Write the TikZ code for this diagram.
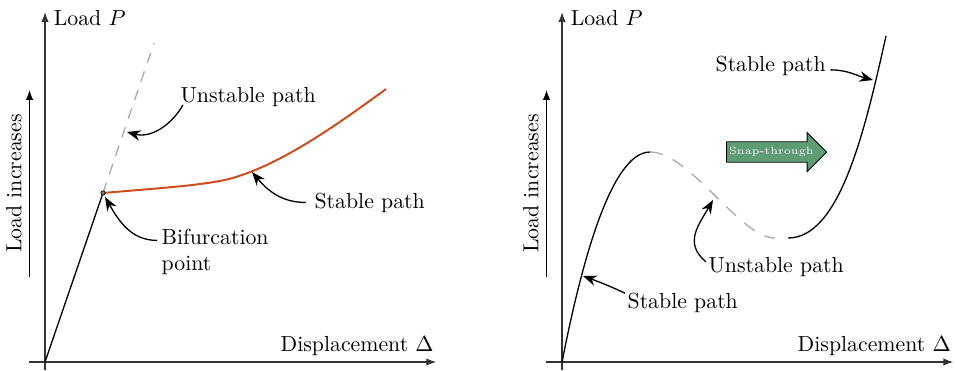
\documentclass[tikz,border=0pt]{standalone}
\usepackage{xcolor}
\usepackage{tikz}
\usepackage{amsmath}
\usetikzlibrary{arrows.meta,positioning,calc,shapes.arrows}
\definecolor{Ink}{HTML}{000000}
\definecolor{AxisGray}{HTML}{333333}
\definecolor{Rust}{HTML}{CF4B1C}
\definecolor{Ghost}{HTML}{ABABAB}
\definecolor{Sage}{HTML}{5E9C73}
\tikzset{
  axisarrow/.style={-{Latex[length=1.6mm,width=1.2mm]}, line width=0.6pt, draw=AxisGray},
  notearrow/.style={-{Stealth[length=2.2mm,width=1.7mm]}, line width=0.6pt, draw=Ink},
  pathline/.style={line width=0.6pt, draw=Ink},
  rustline/.style={line width=0.9pt, draw=Rust},
  ghostline/.style={line width=0.6pt, draw=Ghost, dash pattern=on 5pt off 4pt},
  notelabel/.style={inner sep=1pt, align=left},
  snapnode/.style={single arrow, draw=Ink, fill=Sage, text=white, font=\fontsize{4.8pt}{5pt}\selectfont,
    line width=0.4pt, inner xsep=1pt, inner ysep=2.3pt, minimum height=1.55cm,
    single arrow head extend=0.15cm, single arrow head indent=0pt},
}

\begin{document}
\begin{tikzpicture}[x=1cm,y=1cm]
\path[use as bounding box] (0,0) rectangle (15.403,5.968);
% axes of both panels
\foreach \ox/\pn in {0.726/L,9.065/R}{
  \coordinate (o\pn) at (\ox,0.129);
  \draw[axisarrow] ($(o\pn)+(0,-0.129)$) -- ($(o\pn)+(0,5.645)$) coordinate (ytip\pn);
  \draw[axisarrow] ($(o\pn)+(-0.26,0)$) -- ($(o\pn)+(6.31,0)$) coordinate (xtip\pn);
  \node[anchor=west,inner sep=1pt] (load\pn) at ($(ytip\pn)+(0.1,-0.09)$) {Load $P$};
  \node[anchor=south east,inner sep=1pt] (disp\pn) at ($(xtip\pn)+(0,0.065)$) {Displacement $\Delta$};
  \draw[axisarrow,draw=Ink] ($(o\pn)+(-0.25,1.37)$) -- ($(o\pn)+(-0.25,4.387)$)
    node[midway,above,sloped] (incr\pn) {Load increases};
}

% left: bifurcation
\coordinate (bif) at (1.661,2.855);
\draw[pathline] (oL) -- (bif);
\draw[ghostline] (bif) -- (2.484,5.274);
\draw[rustline] (bif) .. controls (2.581,2.935) and (3.145,2.968) .. (3.629,3.065)
  .. controls (4.435,3.258) and (5.323,3.871) .. (6.226,4.532);
\filldraw[fill=gray,draw=Ink,line width=0.3pt] (bif) circle (0.035);
\coordinate (unstTipL) at (2.048,3.839);
\coordinate (stabTipL) at (4.065,3.194);
\coordinate (bifTip) at (1.694,2.790);
\node[notelabel,anchor=west] (unstL) at (2.871,4.395) {Unstable path};
\node[notelabel,anchor=west] (stabL) at (5.032,2.702) {Stable path};
\node[notelabel,anchor=north west] (bifL) at (2.565,2.32) {Bifurcation\\point};
\draw[notearrow] ($(unstL.west)+(0.08,-0.12)$) to[out=-120,in=-15] (unstTipL);
\draw[notearrow] ([xshift=-1mm]stabL.west) to[out=180,in=-50] (stabTipL);
\draw[notearrow] ($(bifL.north west)+(-0.03,-0.23)$) to[out=180,in=-60] (bifTip);

% right: snap-through
\coordinate (peak) at (10.484,3.516);
\coordinate (valley) at (12.5,2.129);
\coordinate (rise) at (12.710,2.129);
\draw[pathline] (oR) .. controls (9.355,1.613) and (9.839,3.516) .. (peak);
\draw[ghostline,dash pattern=on 6pt off 5pt] (peak) .. controls (11.129,3.516) and (11.935,2.129) .. (valley);
\draw[pathline] (rise) .. controls (13.548,2.129) and (13.952,3.871) .. (14.290,5.387);
\node[snapnode,anchor=tail] (snap) at (11.71,3.516) {Snap-through};
\coordinate (stabTipTop) at (14.081,4.677);
\coordinate (unstTipR) at (11.5,2.742);
\coordinate (stabTipBot) at (9.403,1.516);
\node[notelabel,anchor=west] (stabTop) at (11.5,4.911) {Stable path};
\node[notelabel,anchor=west] (unstR) at (11.387,1.653) {Unstable path};
\node[notelabel,anchor=west] (stabBot) at (10.081,1.089) {Stable path};
\draw[notearrow] ($(stabTop.east)+(0.03,-0.07)$) to[out=0,in=165] (stabTipTop);
\draw[notearrow] ($(unstR.west)+(0,0.09)$) to[out=140,in=-120,looseness=1.2] (unstTipR);
\draw[notearrow] ($(stabBot.west)+(0,0.15)$) to[out=155,in=-20] (stabTipBot);
\end{tikzpicture}
\end{document}
